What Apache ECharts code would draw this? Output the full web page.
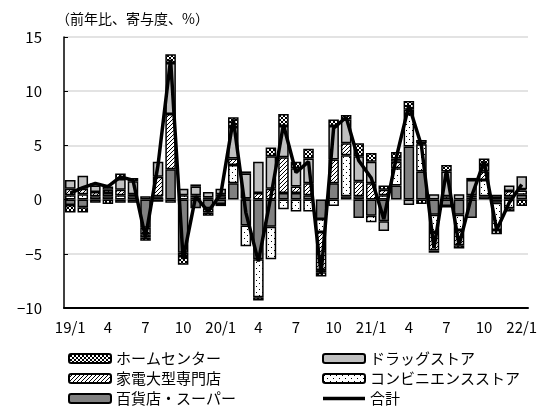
<!DOCTYPE html>
<html>
<head>
<meta charset="utf-8">
<script src="https://cdn.jsdelivr.net/npm/echarts@6/dist/echarts.min.js"></script>
<style>
  html, body { margin: 0; padding: 0; background: #fff; }
  #chart { width: 542px; height: 416px; }
</style>
</head>
<body>
<div id="chart"></div>
<script>
const months = [
  '19/1','19/2','19/3','19/4','19/5','19/6','19/7','19/8','19/9','19/10','19/11','19/12',
  '20/1','20/2','20/3','20/4','20/5','20/6','20/7','20/8','20/9','20/10','20/11','20/12',
  '21/1','21/2','21/3','21/4','21/5','21/6','21/7','21/8','21/9','21/10','21/11','21/12',
  '22/1'
]
// tick labels shown every 3 months
const tickLabels = { '19/1': '19/1', '19/4': '4', '19/7': '7', '19/10': '10',
  '20/1': '20/1', '20/4': '4', '20/7': '7', '20/10': '10',
  '21/1': '21/1', '21/4': '4', '21/7': '7', '21/10': '10', '22/1': '22/1' }

const department = [-0.5,-0.7,-0.3,0.3,-0.3,-0.3,-2.6,0.2,2.8,-4.9,-0.8,-0.8,
  -0.4,1.5,-2.4,-5.5,-2.5,0.6,0.6,0.4,-1.8,1.5,0.3,-1.7,
  -1.5,-2.0,1.3,4.9,2.6,-1.4,-0.6,-1.4,-1.7,0.3,-0.3,0.3,0.45]
const convenience = [0.4,0.5,0.3,0.3,0.4,0.3,-0.6,0.1,-0.3,0.4,0.2,-0.4,
  0.3,1.7,-1.9,-3.5,-3.0,-0.9,-1.1,-1.1,-1.2,-0.6,3.8,0.3,
  -0.6,0.4,1.6,3.0,2.5,-1.6,-0.1,-1.4,0.2,1.5,-2.5,-0.8,0.4]
const electronics = [0.6,0.5,0.4,0.3,0.5,0.2,-0.3,1.8,5.1,-0.3,0.2,0.2,
  0.2,0.6,0.1,0.6,1.0,3.3,0.6,1.1,-3.5,2.2,1.1,1.4,
  1.5,0.5,0.6,0.4,0.1,-1.7,0.3,-1.4,0.2,0.8,0.15,0.5,0.1]
const drugstore = [0.8,1.2,0.6,0.3,1.0,1.2,0.3,1.4,4.7,0.6,0.8,0.5,
  0.5,2.9,2.3,2.9,3.0,2.9,1.7,2.3,-0.2,3.1,2.2,2.3,
  2.0,-0.9,0.3,-0.5,0.3,0.5,2.3,0.5,1.4,0.6,0.3,0.5,1.2]
const homecenter = [-0.7,-0.5,0.2,-0.4,0.5,0.3,-0.3,-0.2,0.8,-0.8,0.2,-0.3,
  -0.2,0.9,0.2,-0.3,0.8,1.1,0.6,0.9,-0.4,0.6,0.4,1.2,
  0.8,0.4,0.6,0.8,-0.4,-0.2,0.6,-0.3,0.2,0.6,-0.4,-0.3,-0.6]
const total = [0.6,1.1,1.5,1.2,2.1,1.8,-3.5,3.2,12.9,-5.5,0.3,-1.1,
  0.5,7.4,-1.2,-5.7,0.3,6.9,2.5,3.5,-6.9,6.6,7.6,3.6,
  2.0,-1.8,3.9,8.7,5.0,-4.5,2.7,-4.2,0.3,3.5,-2.8,-0.3,1.4]

// small tiled patterns for the hatched series
function makePattern(kind) {
  const c = document.createElement('canvas')
  const size = kind === 'dots' ? 6 : 4
  c.width = size; c.height = size
  const ctx = c.getContext('2d')
  ctx.fillStyle = '#fff'
  ctx.fillRect(0, 0, size, size)
  ctx.fillStyle = '#000'
  if (kind === 'cross') {
    for (let i = 0; i < 4; i++) { ctx.fillRect(i, i, 1, 1); ctx.fillRect(3 - i, i, 1, 1) }
  } else if (kind === 'diag') {
    for (let i = 0; i < 4; i++) ctx.fillRect(3 - i, i, 1, 1)
  } else {
    ctx.fillRect(1, 1, 1, 1)
    ctx.fillRect(4, 4, 1, 1)
  }
  return { image: c, repeat: 'repeat' }
}

const font = '"Noto Sans CJK JP", "Noto Sans", sans-serif'
const barStyle = color => ({ color, borderColor: '#000', borderWidth: 1.5 })
const legendBase = {
  orient: 'vertical', top: 350, itemGap: 3, padding: 0,
  itemWidth: 42, itemHeight: 9,
  textStyle: { fontSize: 15, color: '#000', lineHeight: 17 }
}

const chart = echarts.init(document.getElementById('chart'))
chart.setOption({
  backgroundColor: '#fff',
  animation: false,
  textStyle: { fontFamily: font },
  title: {
    text: '（前年比、寄与度、%）',
    left: 51, top: 7,
    textStyle: { fontSize: 14, fontWeight: 'normal', color: '#000', fontFamily: font }
  },
  legend: [
    Object.assign({}, legendBase, {
      data: ['ホームセンター', '家電大型専門店', '百貨店・スーパー'], left: 68
    }),
    Object.assign({}, legendBase, {
      data: ['ドラッグストア', 'コンビニエンスストア',
        { name: '合計', icon: 'path://M0,0L42,0L42,3.5L0,3.5Z', itemStyle: { color: '#000' } }],
      left: 322
    })
  ],
  grid: { left: 64, right: 14, top: 37, bottom: 108 },
  xAxis: {
    type: 'category',
    data: months,
    axisLine: { onZero: false, lineStyle: { color: '#000', width: 2 } },
    axisTick: { show: false },
    axisLabel: {
      interval: 0,
      margin: 12,
      fontSize: 15, color: '#000',
      formatter: v => tickLabels[v] || ''
    }
  },
  yAxis: {
    type: 'value',
    min: -10, max: 15, interval: 5,
    axisLine: { show: true, lineStyle: { color: '#000', width: 1.5 } },
    axisTick: { show: true, inside: true, length: 4, lineStyle: { color: '#000' } },
    axisLabel: {
      fontSize: 15, color: '#000', margin: 22,
      formatter: v => String(v).replace('-', '−')
    },
    splitLine: { lineStyle: { color: '#e3e3e3', width: 2 } }
  },
  series: [
    { name: '百貨店・スーパー', type: 'bar', stack: 'all', barWidth: '84%', data: department, itemStyle: barStyle('#808080') },
    { name: 'コンビニエンスストア', type: 'bar', stack: 'all', data: convenience, itemStyle: barStyle(makePattern('dots')) },
    { name: '家電大型専門店', type: 'bar', stack: 'all', data: electronics, itemStyle: barStyle(makePattern('diag')) },
    { name: 'ドラッグストア', type: 'bar', stack: 'all', data: drugstore, itemStyle: barStyle('#bfbfbf') },
    { name: 'ホームセンター', type: 'bar', stack: 'all', data: homecenter, itemStyle: barStyle(makePattern('cross')) },
    {
      name: '合計', type: 'line', data: total, symbol: 'none', z: 5,
      lineStyle: { color: '#000', width: 3.5 }, itemStyle: { color: '#000' }
    }
  ]
})
</script>
</body>
</html>
